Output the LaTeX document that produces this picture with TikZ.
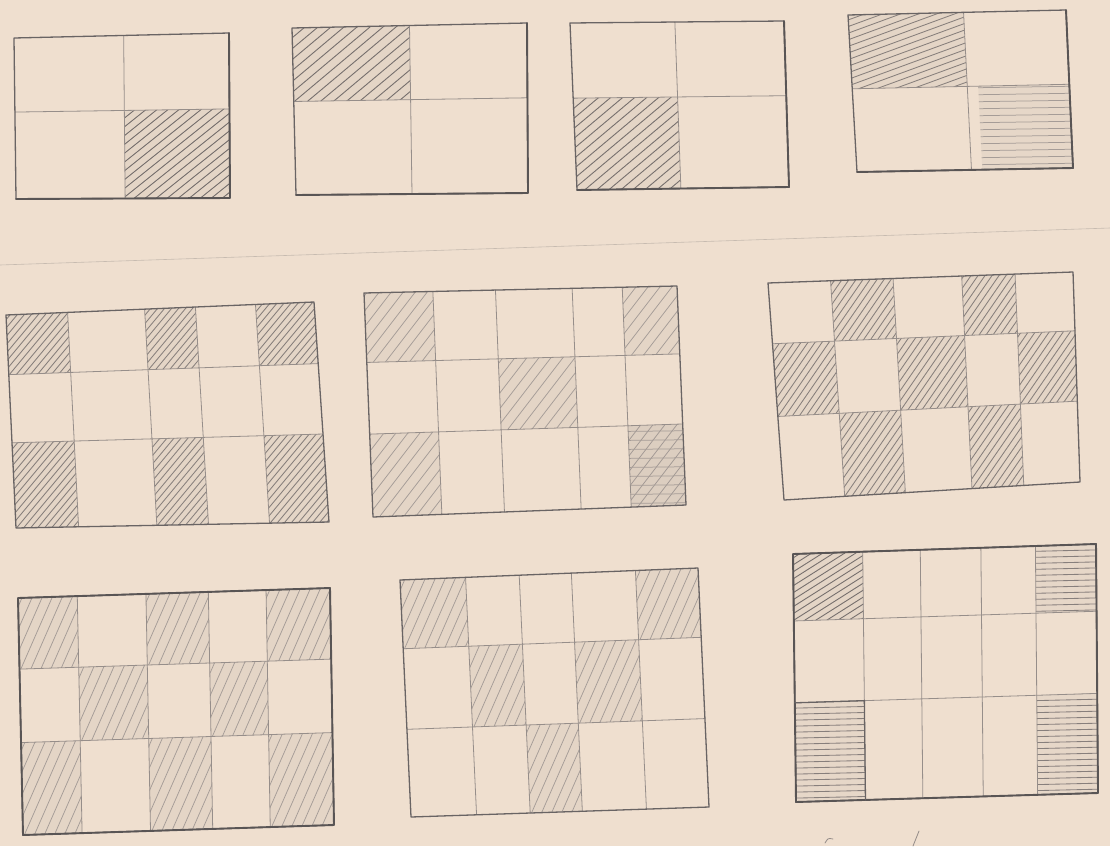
\documentclass[tikz,border=0pt]{standalone}
\usetikzlibrary{calc}
\definecolor{paper}{RGB}{239,223,207}
\definecolor{pencil}{RGB}{105,100,100}
\definecolor{pencilL}{RGB}{150,142,138}
\definecolor{hatchD}{RGB}{118,111,109}
\definecolor{hatchM}{RGB}{135,127,124}
\definecolor{hatchL}{RGB}{165,156,151}
\tikzset{
 outer/.style={draw=pencil,line width=1.3pt,line join=round,line cap=round},
 outerthick/.style={draw=pencil!85!black,line width=1.9pt,line cap=round,line join=round},
 inner/.style={draw=pencilL,line width=0.8pt,line cap=round},
 hd/.style={draw=hatchD,line width=0.9pt,line cap=round},
 hm/.style={draw=hatchM,line width=0.85pt,line cap=round},
 hl/.style={draw=hatchL,line width=0.75pt,line cap=round},
 faint/.style={draw=pencilL!45!paper,line width=0.6pt},
}
\newcommand\setgrid[8]{\coordinate (TL) at (#1,#2);\coordinate (TR) at (#3,#4);\coordinate (BR) at (#5,#6);\coordinate (BL) at (#7,#8);}
\newcommand\gp[3]{\coordinate (gT) at ($(TL)!#2!(TR)$);\coordinate (gB) at ($(BL)!#2!(BR)$);\coordinate (#1) at ($(gT)!#3!(gB)$);}
\newcommand\cellclip[4]{\gp{c1}{#1}{#2}\gp{c2}{#3}{#2}\gp{c3}{#3}{#4}\gp{c4}{#1}{#4}\clip (c1)--(c2)--(c3)--(c4)--cycle;}
% diagonal hatch: u1 v1 u2 v2 dx dy step style
\newcommand\dhatch[8]{\begin{scope}\cellclip{#1}{#2}{#3}{#4}
 \fill[hatchM,opacity=0.10] (c1)--(c2)--(c3)--(c4)--cycle;
 \foreach \i in {0,...,95} \draw[#8] ($(c4)+({-380+\i*#7},3)$) -- ++(#5,-#6);
\end{scope}}
% horizontal hatch: u1 v1 u2 v2 rise step style
\newcommand\hhatch[7]{\begin{scope}\cellclip{#1}{#2}{#3}{#4}
 \fill[hatchM,opacity=0.08] (c1)--(c2)--(c3)--(c4)--cycle;
 \foreach \i in {0,...,40} \draw[#7] ($(c1)+(-30,{\i*#6-12})$) -- ++(260,-#5);
\end{scope}}
\newcommand\gridlines[2]{%
 \foreach \u in {#1} \draw[inner] ($(TL)!\u!(TR)$) -- ($(BL)!\u!(BR)$);
 \foreach \v in {#2} \draw[inner] ($(TL)!\v!(BL)$) -- ($(TR)!\v!(BR)$);
 \draw[outer] (TL) -- (TR) -- (BR) -- (BL) -- cycle;}
\begin{document}
\begin{tikzpicture}[x=1pt,y=-1pt]
\fill[paper] (0,0) rectangle (1110,846);
\useasboundingbox (0,0) rectangle (1110,846);
% faint page line
\draw[faint] (0,265) -- (1110,228);
% ---------- Row 1 ----------
% G1
\setgrid{14}{38}{229}{33}{230}{198}{16}{199}
\dhatch{0.51}{0.46}{1}{1}{250}{200}{11}{hd}
\gridlines{0.51}{0.46}
\draw[outerthick] (TR) -- (BR) -- (BL);
% G2
\setgrid{292}{28}{527}{23}{528}{193}{296}{195}
\dhatch{0}{0}{0.5}{0.44}{250}{210}{13}{hd}
\gridlines{0.5}{0.44}
\draw[outerthick] (TR) -- (BR) -- (BL);
% G3
\setgrid{570}{23}{784}{21}{789}{187}{577}{190}
\dhatch{0}{0.45}{0.49}{1}{250}{210}{12}{hd}
\gridlines{0.49}{0.45}
\draw[outerthick] (TR) -- (BR) -- (BL);
% G4
\setgrid{848}{15}{1066}{10}{1073}{168}{857}{172}
\dhatch{0}{0}{0.53}{0.47}{300}{110}{18}{hm}
\hhatch{0.58}{0.47}{1}{1}{4}{7}{hl}
\gridlines{0.53}{0.47}
\draw[outerthick] (TR) -- (BR) -- (BL);
% ---------- Row 2 ----------
% G5
\setgrid{6}{315}{314}{302}{329}{522}{16}{528}
\foreach \a/\b in {0/0.2,0.45/0.615,0.81/1}{
 \dhatch{\a}{0}{\b}{0.28}{200}{240}{7}{hm}
 \dhatch{\a}{0.6}{\b}{1}{200}{240}{7}{hm}}
\gridlines{0.2,0.45,0.615,0.81}{0.28,0.6}
% G6
\setgrid{364}{293}{677}{286}{686}{505}{373}{517}
\dhatch{0}{0}{0.22}{0.31}{200}{260}{12}{hl}
\dhatch{0.825}{0}{1}{0.31}{200}{260}{12}{hl}
\dhatch{0.42}{0.31}{0.665}{0.63}{200}{260}{12}{hl}
\dhatch{0}{0.63}{0.22}{1}{200}{260}{12}{hl}
\dhatch{0.825}{0.63}{1}{1}{200}{260}{12}{hl}
\hhatch{0.825}{0.63}{1}{1}{3}{9}{hl}
\gridlines{0.22,0.42,0.665,0.825}{0.31,0.63}
% G7
\setgrid{768}{283}{1073}{272}{1080}{482}{784}{500}
\foreach \a/\b in {0.205/0.41,0.635/0.81}{
 \dhatch{\a}{0}{\b}{0.28}{200}{290}{7}{hm}
 \dhatch{\a}{0.615}{\b}{1}{200}{290}{7}{hm}}
\foreach \a/\b in {0/0.205,0.41/0.635,0.81/1}{
 \dhatch{\a}{0.28}{\b}{0.615}{200}{290}{7}{hm}}
\gridlines{0.205,0.41,0.635,0.81}{0.28,0.615}
% ---------- Row 3 ----------
% G8
\setgrid{18}{598}{330}{588}{334}{825}{23}{835}
\foreach \a/\b in {0/0.19,0.41/0.61,0.795/1}{
 \dhatch{\a}{0}{\b}{0.3}{140}{320}{10}{hl}
 \dhatch{\a}{0.61}{\b}{1}{140}{320}{10}{hl}}
\foreach \a/\b in {0.19/0.41,0.61/0.795}{
 \dhatch{\a}{0.3}{\b}{0.61}{140}{320}{10}{hl}}
\gridlines{0.19,0.41,0.61,0.795}{0.3,0.61}
\draw[outerthick] (TL) -- (TR) -- (BR) -- (BL) -- cycle;
% G9
\setgrid{400}{580}{698}{568}{709}{807}{411}{817}
\dhatch{0}{0}{0.22}{0.29}{140}{320}{10}{hl}
\dhatch{0.79}{0}{1}{0.29}{140}{320}{10}{hl}
\dhatch{0.22}{0.29}{0.40}{0.63}{140}{320}{10}{hl}
\dhatch{0.575}{0.29}{0.79}{0.63}{140}{320}{10}{hl}
\dhatch{0.40}{0.63}{0.575}{1}{140}{320}{10}{hl}
\gridlines{0.22,0.40,0.575,0.79}{0.29,0.63}
% G10
\setgrid{793}{554}{1096}{544}{1098}{793}{796}{802}
\dhatch{0}{0}{0.23}{0.27}{300}{190}{11}{hd}
\hhatch{0.8}{0}{1}{0.27}{6}{6}{hm}
\hhatch{0}{0.6}{0.23}{1}{6}{6}{hm}
\hhatch{0.8}{0.6}{1}{1}{6}{6}{hm}
\gridlines{0.23,0.42,0.62,0.8}{0.27,0.6}
\draw[outerthick] (TL) -- (TR) -- (BR) -- (BL) -- cycle;
\gp{k1}{0}{0.6}\gp{k2}{0.23}{0.6}\gp{k3}{0.23}{1}
\draw[outer] (k1) -- (k2) -- (k3);
% small marks at bottom
\draw[inner] (825,843) .. controls (828,838) .. (833,839);
\draw[inner] (919,831) -- (913,846);
\end{tikzpicture}
\end{document}
